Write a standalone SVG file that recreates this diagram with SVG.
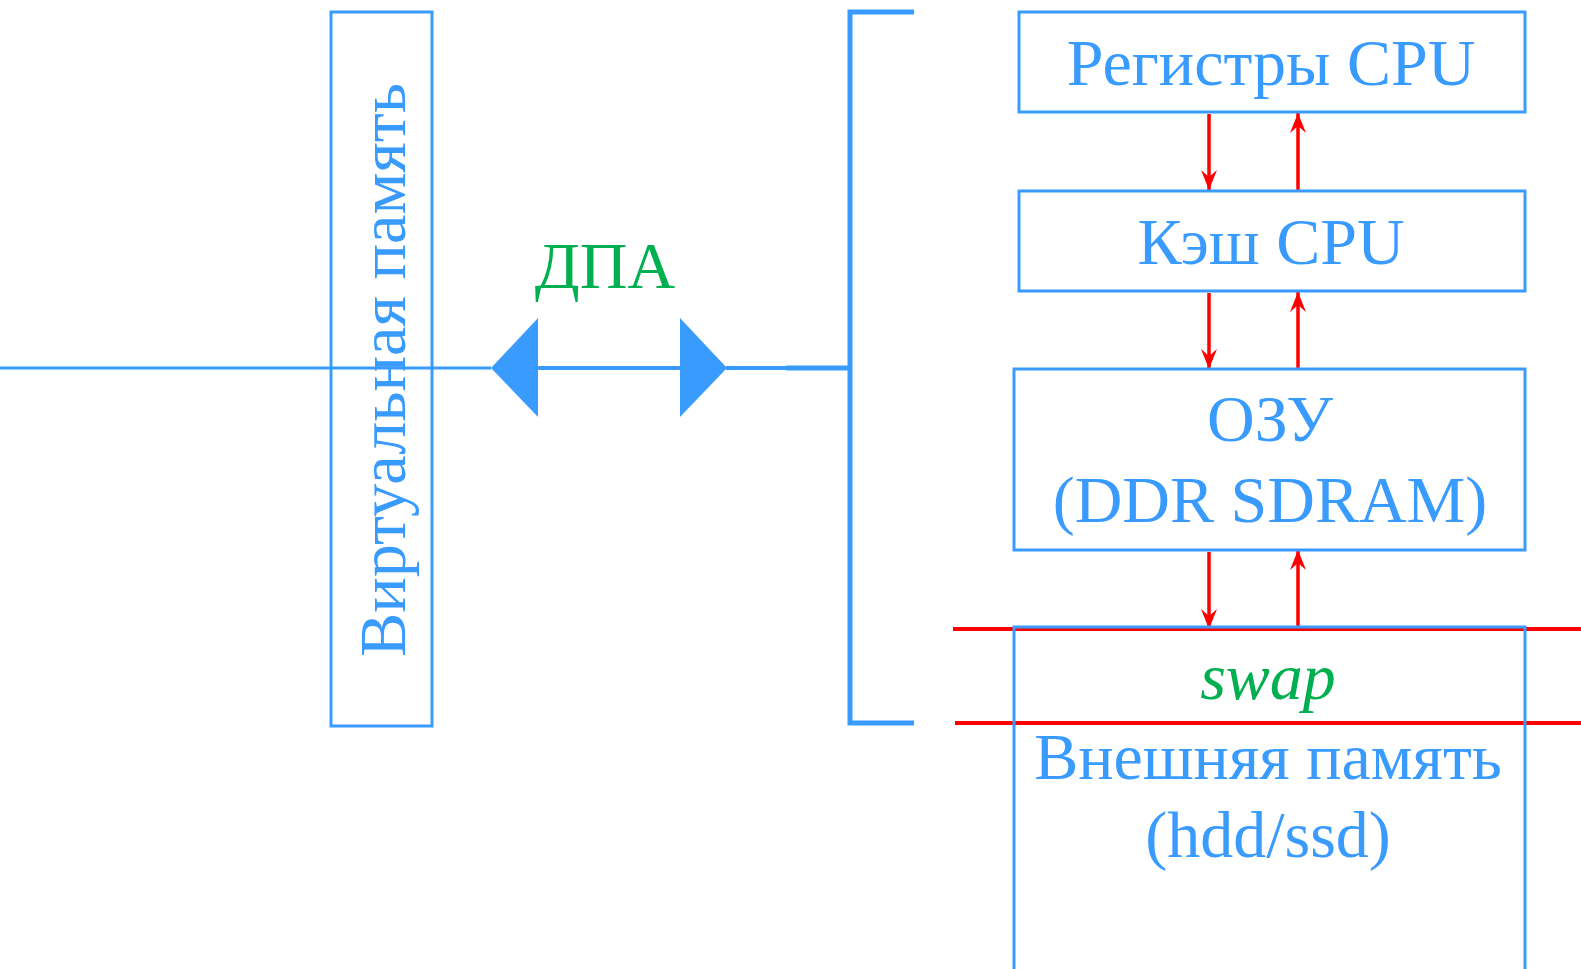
<svg xmlns="http://www.w3.org/2000/svg" width="1581" height="969" viewBox="0 0 1581 969">
  <defs>
    <marker id="redHead" viewBox="0 0 20 16" refX="20" refY="8" markerWidth="20" markerHeight="16" markerUnits="userSpaceOnUse" orient="auto">
      <path d="M0,0 L20,8 L0,16 L7,8 Z" fill="#FF0000"/>
    </marker>
  </defs>
  <style>
    .box { fill: none; stroke: #3A9BFF; stroke-width: 3; }
    .lbl { font-family: "Liberation Serif", "Times New Roman", serif; font-size: 66px; fill: #3A9BFF; text-anchor: middle; }
    .green { fill: #00B050; }
    .blue { stroke: #3A9BFF; fill: none; }
    .red { stroke: #FF0000; stroke-width: 4; fill: none; }
    .redArrow { stroke: #FF0000; stroke-width: 3.5; fill: none; marker-end: url(#redHead); }
  </style>

  <!-- virtual memory column -->
  <g id="virtual-memory">
    <rect class="box" x="331" y="12" width="101" height="714"/>
  </g>

  <!-- address space link with double arrow -->
  <g id="connectors">
    <line class="blue" x1="0" y1="368" x2="491" y2="368" stroke-width="3"/>
    <line class="blue" x1="538" y1="368" x2="681" y2="368" stroke-width="4"/>
    <line class="blue" x1="726" y1="368" x2="786" y2="368" stroke-width="4"/>
    <line class="blue" x1="786" y1="368" x2="850" y2="368" stroke-width="5"/>
    <polygon points="491,368 538,318 538,417" fill="#3A9BFF"/>
    <polygon points="727,368 680,318 680,417" fill="#3A9BFF"/>
    <!-- bracket grouping the physical levels -->
    <polyline class="blue" points="914,12 850,12 850,723 914,723" stroke-width="5"/>

    <!-- data flow between levels -->
    <line class="redArrow" x1="1209" y1="114" x2="1209" y2="190"/>
    <line class="redArrow" x1="1298" y1="190" x2="1298" y2="113"/>
    <line class="redArrow" x1="1209" y1="293" x2="1209" y2="369"/>
    <line class="redArrow" x1="1298" y1="369" x2="1298" y2="292"/>
    <line class="redArrow" x1="1209" y1="552" x2="1209" y2="629"/>
    <line class="redArrow" x1="1298" y1="631" x2="1298" y2="550"/>

    <!-- swap area boundaries -->
    <line class="red" x1="953" y1="629" x2="1581" y2="629"/>
    <line class="red" x1="955" y1="723" x2="1581" y2="723"/>
  </g>

  <g id="virtual-memory-label">
    <text class="lbl" transform="translate(405,370) rotate(-90)" x="0" y="0" textLength="574" lengthAdjust="spacingAndGlyphs">Виртуальная память</text>
  </g>

  <g id="dpa">
    <text class="lbl green" x="605" y="288">ДПА</text>
  </g>

  <g id="registers">
    <rect class="box" x="1019" y="12" width="506" height="100"/>
    <text class="lbl" x="1271" y="85">Регистры CPU</text>
  </g>

  <g id="cache">
    <rect class="box" x="1019" y="191" width="506" height="100"/>
    <text class="lbl" x="1271" y="264">Кэш CPU</text>
  </g>

  <g id="ram">
    <rect class="box" x="1014" y="369" width="511" height="181"/>
    <text class="lbl" x="1270" y="441">ОЗУ</text>
    <text class="lbl" x="1270" y="522">(DDR SDRAM)</text>
  </g>

  <g id="external">
    <rect class="box" x="1014" y="627" width="511" height="345"/>
    <text class="lbl green" x="1268" y="699" font-style="italic">swap</text>
    <text class="lbl" x="1268" y="779">Внешняя память</text>
    <text class="lbl" x="1268" y="857">(hdd/ssd)</text>
  </g>
</svg>
